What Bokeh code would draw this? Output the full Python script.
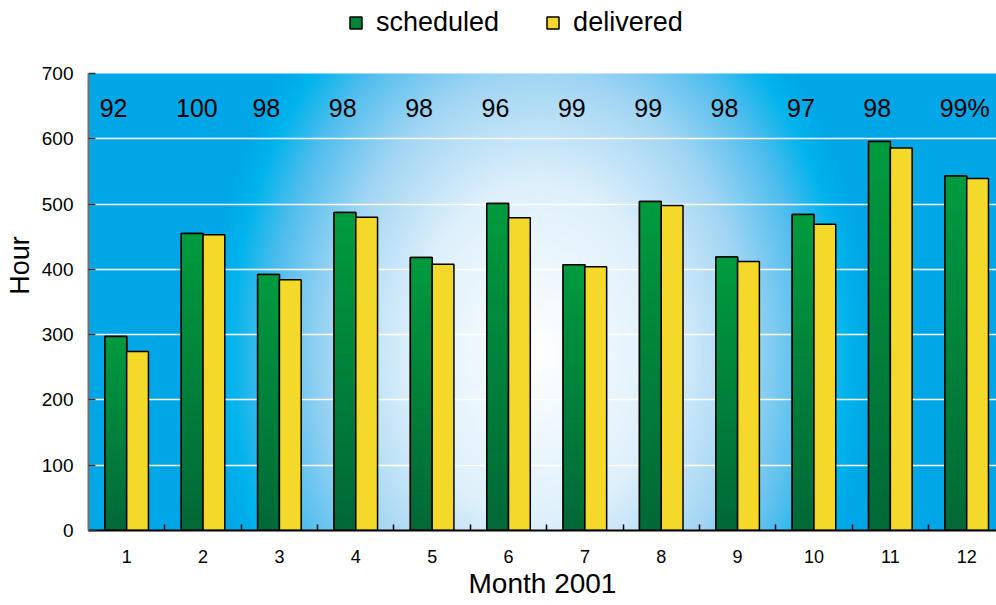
import numpy as np
from bokeh.plotting import figure
from bokeh.models import ColumnDataSource, Range1d, FixedTicker, Legend, LegendItem
from bokeh.core.properties import value
from bokeh.embed import file_html
from bokeh.resources import INLINE

# ---------------- data ----------------
months = list(range(1, 13))
month_labels = ["1", "2", "3", "4", "5", "6", "7", "8", "9", "10", "11", "12"]
scheduled = [297, 455, 392, 487, 418, 501, 407, 504, 419, 484, 596, 543]
delivered = [274, 453, 384, 480, 408, 479, 404, 498, 412, 469, 586, 539]
pct_labels = ["92", "100", "98", "98", "98", "96", "99", "99", "98", "97", "98", "99%"]
y_ticks = [0, 100, 200, 300, 400, 500, 600, 700]

# ---------------- style ----------------
FONT = "Liberation Sans"
W, H = 996, 605
LEFT, BOTTOM = 88, 75
FRAME_H = H - BOTTOM
AXIS_TOP_PX = 73                      # pixel row of value 700
X_START, X_END = 0.5, 12.39
Y_START, Y_AXIS_END = 0, 700
Y_END = Y_AXIS_END * FRAME_H / (FRAME_H - AXIS_TOP_PX)  # room above for legend
BAR_W = 0.285
LABEL_Y = 647
GREEN_TOP = (0, 155, 62)
GREEN_BOT = (0, 104, 55)
YELLOW = "#F5D92A"

p = figure(width=W, height=H,
           x_range=Range1d(X_START, X_END), y_range=Range1d(Y_START, Y_END),
           output_backend="svg", toolbar_location=None,
           min_border_left=LEFT, min_border_right=0,
           min_border_top=0, min_border_bottom=BOTTOM)
p.outline_line_color = None
p.background_fill_color = "white"
p.border_fill_color = "white"

# ---------------- radial background (plot area 0..700) ----------------
FW, FH = W - LEFT, FRAME_H - AXIS_TOP_PX
nx, ny = 454, 229
gx = (np.arange(nx) + 0.5) * FW / nx
gy = (np.arange(ny) + 0.5) * FH / ny
GX, GY = np.meshgrid(gx, gy)
cx, cy, rx, ry = 450, 280, 335, 445
t = np.sqrt(((GX - cx) / rx) ** 2 + ((GY - cy) / ry) ** 2)
stops = [0.0, 0.38, 0.62, 0.8, 0.92, 1.0]
cols = [(255, 255, 255), (222, 240, 251), (163, 214, 244),
        (82, 190, 238), (0, 180, 236), (0, 166, 230)]
rgba = np.zeros((ny, nx, 4), dtype=np.uint8)
for k in range(3):
    rgba[..., k] = np.interp(t, stops, [c[k] for c in cols]).astype(np.uint8)
rgba[..., 3] = 255
img = np.ascontiguousarray(rgba[::-1]).view(np.uint32).reshape(ny, nx)
bg = p.image_rgba(image=[img], x=X_START, y=Y_START,
                  dw=X_END - X_START, dh=Y_AXIS_END - Y_START)
bg.level = "image"

# ---------------- bars ----------------
g_x = [m - BAR_W / 2 for m in months]
y_x = [m + BAR_W / 2 for m in months]
src_g = ColumnDataSource(dict(x=g_x, top=scheduled))
src_y = ColumnDataSource(dict(x=y_x, top=delivered))

g_base = p.vbar(x="x", top="top", bottom=0, width=BAR_W, source=src_g,
                fill_color="#00843A", line_color="black", line_width=1.5)

# vertical gradient stripes on green bars
n = 40
sx, stop, sbot, scol = [], [], [], []
for xv, v in zip(g_x, scheduled):
    for k in range(n):
        f0, f1 = k / n, (k + 1) / n
        f = (f0 + f1) / 2
        c = tuple(int(round(b + (a - b) * f)) for a, b in zip(GREEN_TOP, GREEN_BOT))
        sx.append(xv)
        sbot.append(v * f0)
        stop.append(v * f1)
        scol.append("#%02x%02x%02x" % c)
src_s = ColumnDataSource(dict(x=sx, top=stop, bottom=sbot, color=scol))
p.vbar(x="x", top="top", bottom="bottom", width=BAR_W, source=src_s,
       fill_color="color", line_color="color", line_width=0.8)
p.vbar(x="x", top="top", bottom=0, width=BAR_W, source=src_g,
       fill_alpha=0, line_color="black", line_width=1.5)

y_base = p.vbar(x="x", top="top", bottom=0, width=BAR_W, source=src_y,
                fill_color=YELLOW, line_color="black", line_width=1.5)

# ---------------- percentage labels ----------------
src_t = ColumnDataSource(dict(x=months, y=[LABEL_Y] * len(months), text=pct_labels))
p.text(x="x", y="y", text="text", source=src_t,
       text_font=value(FONT), text_font_size=value("25px"),
       text_color="black", text_align="left", text_baseline="middle",
       x_offset=-27)

# ---------------- axes ----------------
p.xaxis.ticker = FixedTicker(ticks=months, minor_ticks=[m + 0.5 for m in months])
p.xaxis.major_label_overrides = {m: l for m, l in zip(months, month_labels)}
p.xaxis.major_tick_in = 0
p.xaxis.major_tick_out = 0
p.xaxis.minor_tick_in = 6
p.xaxis.minor_tick_out = 0
p.xaxis.minor_tick_line_color = "black"
p.xaxis.minor_tick_line_width = 1.5
p.xaxis.axis_line_color = "black"
p.xaxis.axis_line_width = 2
p.xaxis.major_label_text_font = FONT
p.xaxis.major_label_text_font_size = "18px"
p.xaxis.major_label_text_color = "black"
p.xaxis.major_label_standoff = 19
p.xaxis.axis_label = "Month 2001"
p.xaxis.axis_label_text_font = FONT
p.xaxis.axis_label_text_font_size = "28px"
p.xaxis.axis_label_text_font_style = "normal"
p.xaxis.axis_label_text_color = "black"
p.xaxis.axis_label_standoff = 2

p.yaxis.ticker = FixedTicker(ticks=y_ticks)
p.yaxis.bounds = (Y_START, Y_AXIS_END)
p.yaxis.major_tick_in = 7
p.yaxis.major_tick_out = 0
p.yaxis.minor_tick_line_color = None
p.yaxis.major_tick_line_color = "#333333"
p.yaxis.major_tick_line_width = 1.5
p.yaxis.axis_line_color = "#707070"
p.yaxis.axis_line_width = 2
p.yaxis.major_label_text_font = FONT
p.yaxis.major_label_text_font_size = "19px"
p.yaxis.major_label_text_color = "black"
p.yaxis.major_label_standoff = 15
p.yaxis.axis_label = "Hour"
p.yaxis.axis_label_text_font = FONT
p.yaxis.axis_label_text_font_size = "27px"
p.yaxis.axis_label_text_font_style = "normal"
p.yaxis.axis_label_text_color = "black"
p.yaxis.axis_label_standoff = 4

p.xgrid.grid_line_color = None
p.ygrid.ticker = FixedTicker(ticks=y_ticks[1:-1])
p.ygrid.grid_line_color = "white"
p.ygrid.grid_line_width = 1.5

# ---------------- legend ----------------
legend = Legend(items=[LegendItem(label="scheduled", renderers=[g_base]),
                       LegendItem(label="delivered", renderers=[y_base])],
                orientation="horizontal", location=(260, FRAME_H - 38),
                glyph_width=15, glyph_height=15, label_standoff=13, spacing=46,
                padding=0, margin=0, border_line_color=None,
                background_fill_alpha=0,
                label_text_font=FONT, label_text_font_size="27px",
                label_text_color="black")
p.add_layout(legend, "center")

open("out.html", "w").write(file_html(p, INLINE))
